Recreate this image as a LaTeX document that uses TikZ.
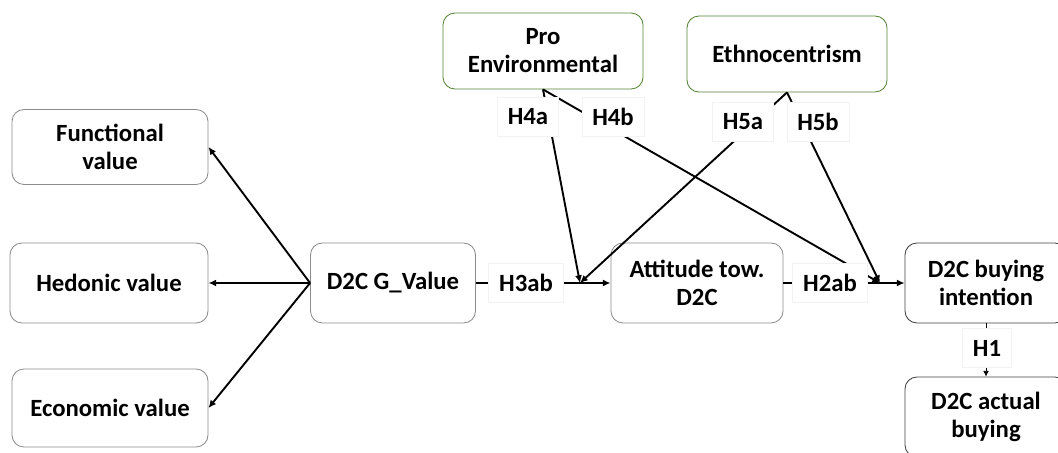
\documentclass[tikz,border=0pt]{standalone}
\usepackage{fontspec}
\setmainfont{Carlito}
\usepackage{tikz}
\usetikzlibrary{positioning,arrows.meta,calc}
\definecolor{modgreen}{RGB}{84,130,53}

\begin{document}
\begin{tikzpicture}[
  x=0.025cm, y=-0.025cm,
  font=\fontsize{17.6}{20}\selectfont\bfseries,
  box/.style={draw=black!45, line width=0.6pt, rounded corners=3mm, align=center, minimum width=4.9cm, minimum height=1.95cm},
  modbox/.style={box, draw=modgreen, minimum width=5cm, minimum height=1.9cm},
  outbox/.style={box, draw=black!75, minimum width=4.05cm, minimum height=2cm},
  hyp/.style={draw=black!5, fill=white, inner xsep=0.26cm, inner ysep=0pt, minimum height=0.975cm},
  arr/.style={-{Latex[length=5.5pt,width=5pt]}, line width=1.35pt},
  tarr/.style={-{Latex[length=4pt,width=4pt]}, line width=0.5pt}]
\useasboundingbox (0,0) rectangle (1058,453);
% value dimensions
\node[box, minimum height=1.875cm] (func) at (110,147) {Functional\\value};
\node[box, minimum width=4.95cm, minimum height=2cm] (hed) at (109,283) {Hedonic value};
\node[box] (eco) at (110,408) {Economic value};
% main path
\node[box, minimum width=4.125cm, minimum height=2cm] (gval) at (393,283) {D2C G\_Value};
\node[box, minimum width=4.3cm, minimum height=2cm] (att) at (697,283) {Attitude tow.\\D2C};
\node[outbox] (intent) at (986,283) {D2C buying\\intention};
\node[outbox] (actual) at (986,417) {D2C actual\\buying};
% moderators
\node[modbox] (proenv) at (543,51) {Pro\\Environmental};
\node[modbox] (ethno) at (787,54) {Ethnocentrism};
\coordinate (m1) at (580,283);
\coordinate (m2) at (880,283);
\draw[arr] (gval.west) -- (func.east);
\draw[arr] (gval.west) -- (hed.east);
\draw[arr] (gval.west) -- (eco.east);
\draw[arr] (gval) -- (att);
\draw[arr] (att) -- (intent);
\draw[tarr] (intent) -- (actual);
\draw[arr] (proenv.south) -- (m1);
\draw[arr] (proenv.south) -- (m2);
\draw[arr] (ethno.south) -- (m1);
\draw[arr] (ethno.south) -- (m2);
% hypothesis labels
\node[hyp] (h4a) at (528,117) {H4a};
\node[hyp] (h4b) at (613,117) {H4b};
\node[hyp] (h5a) at (743,122) {H5a};
\node[hyp] (h5b) at (818,122) {H5b};
\node[hyp] (h3ab) at (526,283) {H3ab};
\node[hyp] (h2ab) at (830,283) {H2ab};
\node[hyp] (h1) at (987,348) {H1};
\end{tikzpicture}
\end{document}
